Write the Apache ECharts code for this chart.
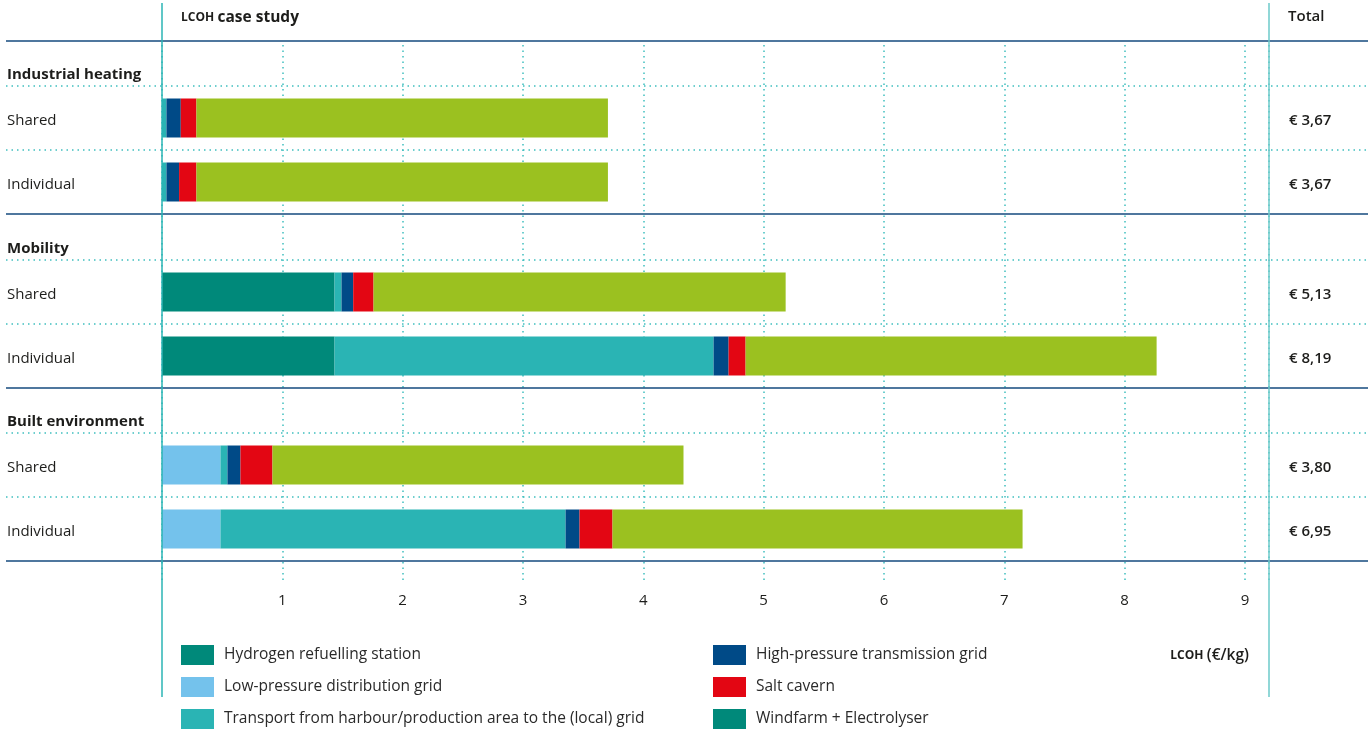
<!DOCTYPE html>
<html><head><meta charset="utf-8">
<script src="https://cdn.jsdelivr.net/npm/echarts@6/dist/echarts.min.js"></script>
<style>html,body{margin:0;padding:0;background:#fff}#c{width:1368px;height:733px}</style>
</head><body><div id="c"></div>
<script>
// ---- data ----
const groups = ['Industrial heating', 'Mobility', 'Built environment'];
const rowLabels = ['Shared', 'Individual'];
// row order: IH-Shared, IH-Individual, Mob-Shared, Mob-Individual, BE-Shared, BE-Individual
const totalLabels = ['€ 3,67', '€ 3,67', '€ 5,13', '€ 8,19', '€ 3,80', '€ 6,95'];
const refuelling   = [0,     0,     1.434, 1.434, 0,     0];
const lowPressure  = [0,     0,     0,     0,     0.486, 0.486];
const transport    = [0.037, 0.037, 0.058, 3.15,  0.058, 2.868];
const highPressure = [0.119, 0.105, 0.097, 0.125, 0.108, 0.116];
const saltCavern   = [0.13,  0.144, 0.169, 0.141, 0.266, 0.274];
const windfarm     = [3.42,  3.42,  3.425, 3.416, 3.416, 3.408];
const seriesNames = ['Hydrogen refuelling station', 'Low-pressure distribution grid',
  'Transport from harbour/production area to the (local) grid',
  'High-pressure transmission grid', 'Salt cavern', 'Windfarm + Electrolyser'];
const seriesData = [refuelling, lowPressure, transport, highPressure, saltCavern, windfarm];
const axisMin = 0, axisMax = 9.2, axisInterval = 1;

// ---- styles ----
const colors = ['#00897a', '#74c2ec', '#2ab4b4', '#004a87', '#e30613', '#9bc120'];
const legendIconColors = ['#00897a', '#74c2ec', '#2ab4b4', '#004a87', '#e30613', '#00897a'];
const FONT = 'Open Sans';
const TXT = '#1d1d1b';
const L = 162, R = 1269, W = R - L;
const gridTops = [86, 260, 433];
const groupLabelY = [75, 249, 422];
const solidY = [41, 214, 388, 561];
const dottedY = [86, 150, 260, 324, 433, 497];

const grids = gridTops.map(t => ({left: L, top: t, width: W, height: 128}));
grids.push({left: L, top: 45, width: W, height: 536});

function isTick(v) { return v > 0 && Math.abs(v - Math.round(v)) < 1e-9; }
const xAxes = [0, 1, 2].map(i => ({gridIndex: i, type: 'value', min: axisMin, max: axisMax, interval: axisInterval, show: false}));
xAxes.push({
  gridIndex: 3, type: 'value', min: axisMin, max: axisMax, interval: axisInterval,
  axisLine: {show: false}, axisTick: {show: false},
  splitLine: {show: true, lineStyle: {color: '#3fbfbf', width: 1.5, type: [1.5, 4]}},
  axisLabel: {margin: 12, fontFamily: FONT, fontSize: 15, color: TXT,
    formatter: v => (isTick(v) ? String(v) : '')}
});

const yAxes = [];
[0, 1, 2].forEach(i => yAxes.push({
  gridIndex: i, type: 'category', inverse: true, data: rowLabels,
  axisLine: {show: false}, axisTick: {show: false}, splitLine: {show: false},
  axisLabel: {margin: 155, align: 'left', formatter: v => '{t|' + v + '}',
    rich: {t: {fontFamily: FONT, fontSize: 15, color: TXT, padding: [6, 0, 0, 0]}}}
}));
[0, 1, 2].forEach(i => yAxes.push({
  gridIndex: i, type: 'category', inverse: true, position: 'right',
  data: totalLabels.slice(i * 2, i * 2 + 2),
  axisLine: {show: false}, axisTick: {show: false}, splitLine: {show: false},
  axisLabel: {margin: 20, align: 'left', formatter: v => '{t|' + v + '}',
    rich: {t: {fontFamily: FONT, fontSize: 15, fontWeight: 600, color: TXT, padding: [6, 0, 0, 0]}}}
}));
yAxes.push({gridIndex: 3, type: 'value', show: false});

const series = [];
[0, 1, 2].forEach(g => {
  seriesNames.forEach((n, k) => {
    series.push({
      name: n, type: 'bar', stack: 'g' + g, xAxisIndex: g, yAxisIndex: g,
      barWidth: 39, itemStyle: {color: colors[k]},
      data: seriesData[k].slice(g * 2, g * 2 + 2)
    });
  });
});

const graphics = [];
solidY.forEach(y => graphics.push({type: 'line', shape: {x1: 6, y1: y, x2: 1368, y2: y},
  style: {stroke: '#154a7e', lineWidth: 1.6}, z: 10}));
dottedY.forEach(y => graphics.push({type: 'line', shape: {x1: 6, y1: y, x2: 1368, y2: y},
  style: {stroke: '#3fbfbf', lineWidth: 1.5, lineDash: [1.5, 4]}, z: 10}));
graphics.push({type: 'line', shape: {x1: L, y1: 3, x2: L, y2: 697}, style: {stroke: '#2bb5b5', lineWidth: 1.5}, z: 11});
graphics.push({type: 'line', shape: {x1: R, y1: 3, x2: R, y2: 697}, style: {stroke: '#6ccaca', lineWidth: 1.5}, z: 11});
groups.forEach((g, i) => graphics.push({type: 'text', x: 7, y: groupLabelY[i],
  style: {text: g, fontFamily: FONT, fontSize: 15, fontWeight: 'bold', fill: TXT, verticalAlign: 'middle'}}));
graphics.push({type: 'text', x: 181, y: 18, style: {
  text: '{a|LCOH} {b|case study}', verticalAlign: 'middle', fill: TXT,
  rich: {a: {fontFamily: FONT, fontSize: 12, fontWeight: 'bold', fill: TXT},
         b: {fontFamily: FONT, fontSize: 15.5, fontWeight: 'bold', fill: TXT}}}});
graphics.push({type: 'text', x: 1288, y: 17, style: {text: 'Total', fontFamily: FONT, fontSize: 15, fontWeight: 600, fill: TXT, verticalAlign: 'middle'}});
graphics.push({type: 'text', x: 1249, y: 656, style: {
  text: '{a|LCOH} {b|(€/kg)}', align: 'right', verticalAlign: 'middle', fill: TXT,
  rich: {a: {fontFamily: FONT, fontSize: 12, fontWeight: 'bold', fill: TXT},
         b: {fontFamily: FONT, fontSize: 15.5, fontWeight: 600, fill: TXT}}}});

function legendData(idx) {
  return idx.map(k => ({name: seriesNames[k], itemStyle: {color: legendIconColors[k]}}));
}
const legendBase = {orient: 'vertical', itemWidth: 33, itemHeight: 20, itemGap: 12, icon: 'rect', padding: 0,
  selectedMode: false, textStyle: {fontFamily: FONT, fontSize: 15.5, color: '#2a2a2a', padding: [0, 0, 0, 5]}};

const chart = echarts.init(document.getElementById('c'));
chart.setOption({
  animation: false,
  grid: grids, xAxis: xAxes, yAxis: yAxes, series: series,
  legend: [
    Object.assign({}, legendBase, {left: 181, top: 645, data: legendData([0, 1, 2])}),
    Object.assign({}, legendBase, {left: 713, top: 645, data: legendData([3, 4, 5])})
  ],
  graphic: graphics
});
</script></body></html>
